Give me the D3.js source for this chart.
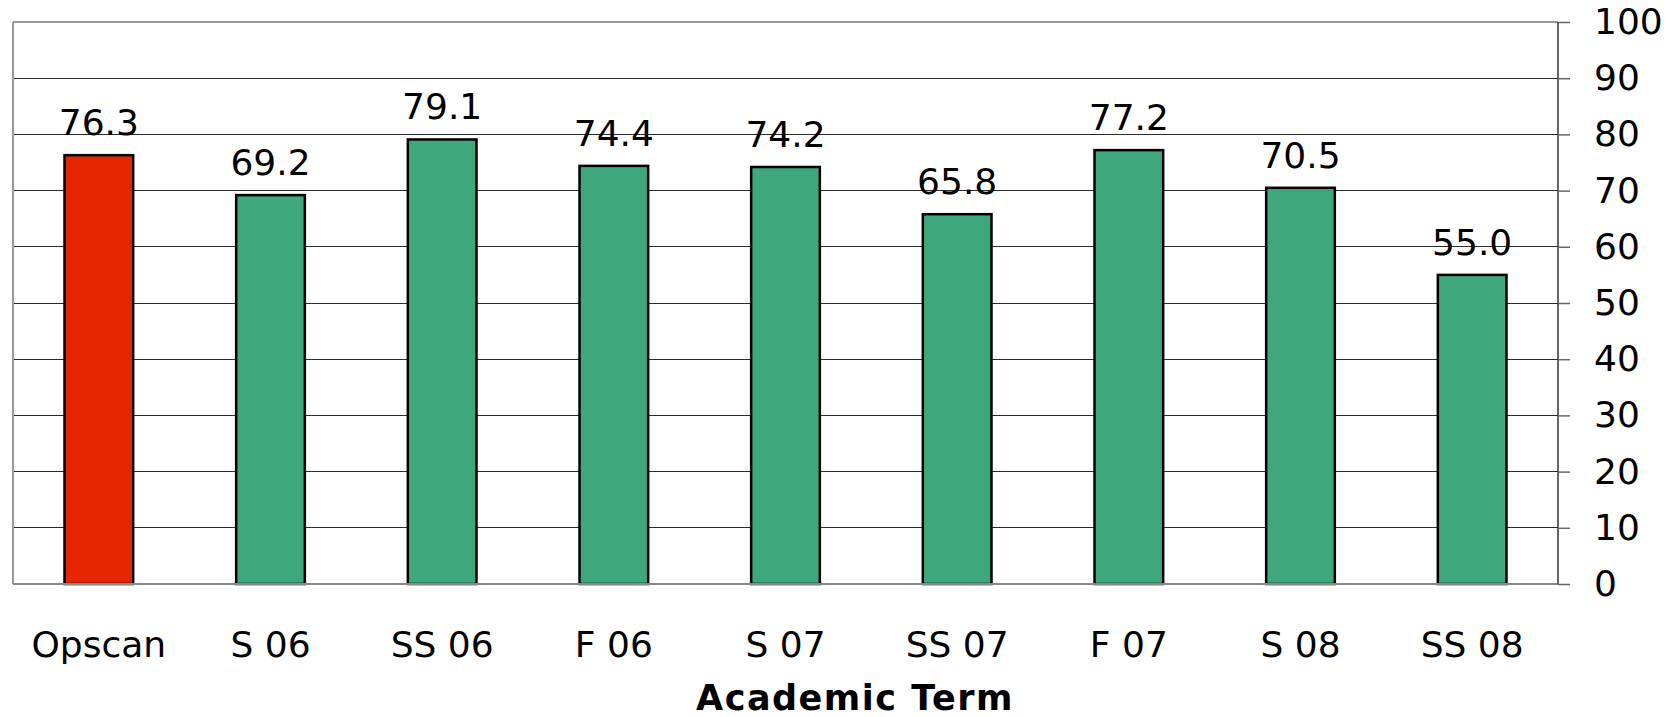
<!DOCTYPE html>
<html><head><meta charset="utf-8">
<script src="https://cdn.jsdelivr.net/npm/d3@7"></script>
<style>body{margin:0;background:#fff}svg{display:block}</style>
</head><body>
<svg id="c" width="1675" height="717"></svg>
<script>
const categories = ["Opscan","S 06","SS 06","F 06","S 07","SS 07","F 07","S 08","SS 08"];
const values = [76.3,69.2,79.1,74.4,74.2,65.8,77.2,70.5,55.0];
const barColors = ["#E52600","#3EA77B","#3EA77B","#3EA77B","#3EA77B","#3EA77B","#3EA77B","#3EA77B","#3EA77B"];
const yTicks = [0,10,20,30,40,50,60,70,80,90,100];
const xTitle = "Academic Term";

const svg = d3.select("#c");
const L = 13, R = 1558, T = 22, B = 584;
const font = "'DejaVu Sans', Verdana, sans-serif";

const x = d3.scaleBand().domain(categories).range([L, R]).padding(0);
const y = d3.scaleLinear().domain([0, 100]).range([B, T]);

// gridlines
svg.append("g").selectAll("line").data(yTicks.filter(d => d > 0 && d < 100)).join("line")
  .attr("x1", L).attr("x2", R).attr("y1", d => y(d)).attr("y2", d => y(d))
  .attr("stroke", "#2a2a2a").attr("stroke-width", 1).attr("shape-rendering", "crispEdges");

// frame top and left
svg.append("line").attr("x1", L).attr("x2", R).attr("y1", y(100)).attr("y2", y(100))
  .attr("stroke", "#999").attr("stroke-width", 2);
svg.append("line").attr("x1", L).attr("x2", L).attr("y1", T).attr("y2", B)
  .attr("stroke", "#999").attr("stroke-width", 2);

// bars
const bw = x.bandwidth() * 0.4;
svg.append("g").selectAll("rect").data(categories).join("rect")
  .attr("x", d => x(d) + (x.bandwidth() - bw) / 2)
  .attr("width", bw)
  .attr("y", (d, i) => y(values[i]))
  .attr("height", (d, i) => B - y(values[i]))
  .attr("fill", (d, i) => barColors[i])
  .attr("stroke", "#000").attr("stroke-width", 2.5);

// value labels
svg.append("g").selectAll("text").data(categories).join("text")
  .attr("x", d => x(d) + x.bandwidth() / 2)
  .attr("y", (d, i) => y(values[i]) - 20)
  .attr("text-anchor", "middle")
  .attr("font-family", font).attr("font-size", 36).attr("fill", "#000")
  .text((d, i) => values[i].toFixed(1));

// bottom axis line
svg.append("line").attr("x1", L).attr("x2", R).attr("y1", B).attr("y2", B)
  .attr("stroke", "#888").attr("stroke-width", 2);

// right axis
const yAxis = d3.axisRight(y).tickValues(yTicks).tickSize(12).tickPadding(24).tickFormat(d3.format("d"));
const ga = svg.append("g").attr("transform", `translate(${R},0)`).call(yAxis);
ga.select(".domain").attr("stroke", "#333").attr("stroke-width", 1.5).attr("d", `M0,${T}V${B}`);
ga.selectAll(".tick line").attr("stroke", "#666").attr("stroke-width", 1.5);
ga.selectAll(".tick text").attr("font-family", font).attr("font-size", 36).attr("fill", "#000");

// x axis labels
const xAxis = d3.axisBottom(x).tickSize(0).tickPadding(47);
const gx = svg.append("g").attr("transform", `translate(0,${B})`).call(xAxis);
gx.select(".domain").remove();
gx.selectAll(".tick text").attr("font-family", font).attr("font-size", 36).attr("fill", "#000");

// axis title
svg.append("text").attr("x", 855).attr("y", 710).attr("text-anchor", "middle")
  .attr("font-family", font).attr("font-weight", "bold").attr("font-size", 35)
  .attr("letter-spacing", 1.5).attr("fill", "#000")
  .text(xTitle);
</script>
</body></html>
